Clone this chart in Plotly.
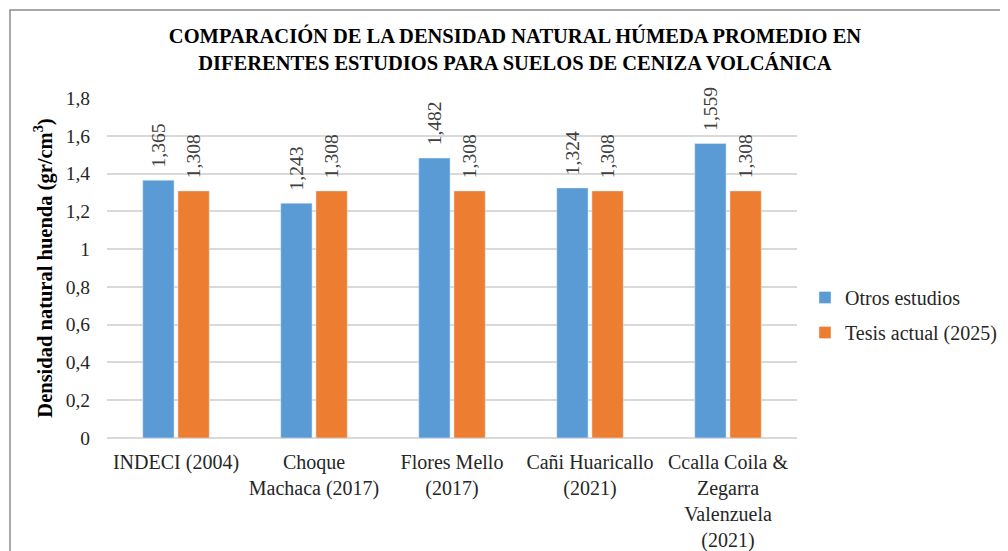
import plotly.graph_objects as go

categories = ["INDECI (2004)", "Choque<br>Machaca (2017)", "Flores Mello<br>(2017)",
              "Cañi Huaricallo<br>(2021)", "Ccalla Coila &<br>Zegarra<br>Valenzuela<br>(2021)"]
otros = [1.365, 1.243, 1.482, 1.324, 1.559]
tesis = [1.308, 1.308, 1.308, 1.308, 1.308]
series_names = ["Otros estudios", "Tesis actual (2025)"]
colors = ["#5B9BD5", "#ED7D31"]
y_ticks = [0, 0.2, 0.4, 0.6, 0.8, 1.0, 1.2, 1.4, 1.6, 1.8]

def fmt(v):
    return "\u00a0\u00a0" + f"{v:.3f}".replace(".", ",")

FONT = "Liberation Serif"

fig = go.Figure()
for i, (name, vals, c) in enumerate(zip(series_names, [otros, tesis], colors)):
    fig.add_trace(go.Bar(
        x=categories, y=vals, name=name, marker_color=c, legendgroup=f"g{i}",
        text=[fmt(v) for v in vals], textposition="outside", textangle=-90,
        constraintext="none",
        textfont=dict(family=FONT, size=19.5, color="#404040"),
        cliponaxis=False,
    ))

# page body adds an 8px offset; work in page coordinates minus 8
OFF = 8
W, H = 1008 - OFF, 551 - OFF
L, R, T, B = 107 - OFF, 797 - OFF, 98 - OFF, 438 - OFF
pw, ph = R - L, B - T

fig.update_layout(
    width=W, height=H,
    margin=dict(l=L, r=W - R, t=T, b=H - B, autoexpand=False),
    paper_bgcolor="white", plot_bgcolor="white",
    separators=",.",
    barmode="group", bargap=0.49, bargroupgap=0.11,
    font=dict(family=FONT, size=20, color="#262626"),
    title=dict(
        text="<b>COMPARACIÓN DE LA DENSIDAD NATURAL HÚMEDA PROMEDIO EN<br>DIFERENTES ESTUDIOS PARA SUELOS DE CENIZA VOLCÁNICA</b>",
        x=(515 - OFF) / W, xanchor="center", y=1 - 35 / H, yanchor="top",
        font=dict(family=FONT, size=20.5, color="black"),
    ),
    legend=dict(
        x=(805 - OFF - L) / pw, xanchor="left", y=(B - (315 - OFF)) / ph, yanchor="middle",
        font=dict(family=FONT, size=20, color="#262626"),
        itemwidth=30, tracegroupgap=6, bgcolor="rgba(0,0,0,0)",
    ),
    xaxis=dict(showgrid=False, showline=False, ticks="", automargin=False,
               ticklabelstandoff=10,
               tickfont=dict(family=FONT, size=20, color="#262626")),
    yaxis=dict(
        range=[0, 1.8], tickvals=y_ticks, showgrid=True, gridcolor="#D9D9D9", gridwidth=2,
        zeroline=True, zerolinecolor="#D9D9D9", zerolinewidth=2, automargin=False,
        ticks="", ticklabelstandoff=16,
        tickfont=dict(family=FONT, size=19.5, color="#262626"),
        title=dict(text="<b>Densidad natural huenda (gr/cm<sup>3</sup>)</b>",
                   font=dict(family=FONT, size=20.5, color="black"), standoff=7),
    ),
    shapes=[dict(type="rect", xref="paper", yref="paper",
                 x0=(10 - OFF - L) / pw, x1=(1012 - OFF - L) / pw,
                 y0=(B - 560) / ph, y1=(B - (10 - OFF)) / ph,
                 line=dict(color="#8C8C8C", width=1.5), fillcolor="rgba(0,0,0,0)", layer="below")],
)

fig.write_html("out.html")
